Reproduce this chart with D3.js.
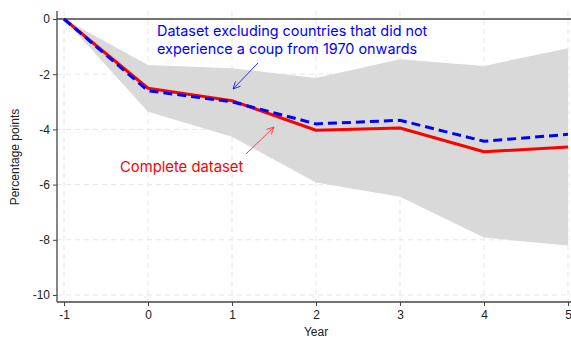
<!DOCTYPE html>
<html>
<head>
<meta charset="utf-8">
<script src="https://cdn.jsdelivr.net/npm/d3@7"></script>
<style>
  html, body { margin: 0; padding: 0; background: #fff; }
  svg { display: block; }
  text { font-family: "Liberation Sans", Arial, sans-serif; }
</style>
</head>
<body>
<svg id="chart" width="571" height="339"></svg>
<script>
// Years relative to the coup
const years = [-1, 0, 1, 2, 3, 4, 5];
// Complete dataset estimates (percentage points)
const completeValues = [0, -2.51, -2.96, -4.03, -3.95, -4.81, -4.64];
// Dataset excluding never-coup countries
const excludedValues = [0, -2.6, -3.0, -3.8, -3.67, -4.43, -4.18];
// Confidence band bounds
const ciUpper = [0, -1.67, -1.78, -2.14, -1.46, -1.70, -1.06];
const ciLower = [0, -3.36, -4.27, -5.92, -6.44, -7.92, -8.21];
// Axis ticks
const yTicks = [0, -2, -4, -6, -8, -10];
const xTicks = [-1, 0, 1, 2, 3, 4, 5];
// Annotation text
const blueNote = ["Dataset excluding countries that did not", "experience a coup from 1970 onwards"];
const redNote = "Complete dataset";

const svg = d3.select("#chart");
const x = d3.scaleLinear().domain([-1, 5]).range([64, 568]);
const y = d3.scaleLinear().domain([0, -10]).range([19, 295]);
const plotLeft = 57, plotBottom = 302, plotRight = 571, plotTop = 11;

// Dashed grid
const grid = svg.append("g");
grid.selectAll("line.gx").data(xTicks).join("line")
  .attr("x1", d => x(d)).attr("x2", d => x(d))
  .attr("y1", plotTop).attr("y2", plotBottom)
  .attr("stroke", "#e6e6e6").attr("stroke-width", 1).attr("stroke-dasharray", "5,4");
grid.selectAll("line.gy").data(yTicks.filter(d => d !== 0)).join("line")
  .attr("x1", plotLeft).attr("x2", plotRight)
  .attr("y1", d => y(d)).attr("y2", d => y(d))
  .attr("stroke", "#e6e6e6").attr("stroke-width", 1).attr("stroke-dasharray", "5,4");

// Confidence band
const band = years.map((yr, i) => ({ yr, lo: ciLower[i], hi: ciUpper[i] }));
svg.append("path")
  .datum(band)
  .attr("fill", "#d9d9d9")
  .attr("d", d3.area().x(d => x(d.yr)).y0(d => y(d.lo)).y1(d => y(d.hi)));

// Zero reference line
svg.append("line")
  .attr("x1", plotLeft).attr("x2", plotRight)
  .attr("y1", y(0)).attr("y2", y(0))
  .attr("stroke", "#444").attr("stroke-width", 1.3);

// Series lines
const line = d3.line().x(d => x(d[0])).y(d => y(d[1]));
svg.append("path")
  .datum(years.map((yr, i) => [yr, completeValues[i]]))
  .attr("fill", "none").attr("stroke", "#ff0000").attr("stroke-width", 3)
  .attr("stroke-linejoin", "round")
  .attr("d", line);
svg.append("path")
  .datum(years.map((yr, i) => [yr, excludedValues[i]]))
  .attr("fill", "none").attr("stroke", "#0000ff").attr("stroke-width", 3)
  .attr("stroke-dasharray", "9,5")
  .attr("d", line);

// Axes (plain hyphen for negative labels)
const axisColor = "#444";
const fmt = d => String(d);
const xAxis = svg.append("g").attr("transform", `translate(0,${plotBottom})`)
  .call(d3.axisBottom(x).tickValues(xTicks).tickSize(4).tickPadding(4).tickFormat(fmt));
const yAxis = svg.append("g").attr("transform", `translate(${plotLeft},0)`)
  .call(d3.axisLeft(y).tickValues(yTicks).tickSize(4).tickPadding(3).tickFormat(fmt));
[xAxis, yAxis].forEach(g => {
  g.select(".domain").remove();
  g.selectAll(".tick line").attr("stroke", axisColor);
  g.selectAll(".tick text").attr("fill", "#222").style("font-size", "12px")
    .style("font-family", '"Liberation Sans", Arial, sans-serif');
});
svg.append("line").attr("x1", plotLeft).attr("x2", plotLeft).attr("y1", plotTop).attr("y2", plotBottom)
  .attr("stroke", axisColor).attr("stroke-width", 1.3);
svg.append("line").attr("x1", plotLeft).attr("x2", plotRight).attr("y1", plotBottom).attr("y2", plotBottom)
  .attr("stroke", axisColor).attr("stroke-width", 1.3);

// Axis titles
svg.append("text").attr("x", x(2)).attr("y", 336).attr("text-anchor", "middle")
  .style("font-size", "12px").attr("fill", "#222").text("Year");
svg.append("text").attr("transform", `translate(19,157) rotate(-90)`).attr("text-anchor", "middle")
  .style("font-size", "12px").attr("fill", "#222").text("Percentage points");

// Annotations
const annoFont = 'Inter, "Open Sans", sans-serif';
blueNote.forEach((t, i) => {
  svg.append("text").attr("x", 157).attr("y", 36 + i * 18)
    .style("font-family", annoFont).style("font-size", "14.4px").attr("fill", "#0000ff")
    .text(t);
});
svg.append("text").attr("x", 120).attr("y", 172)
  .style("font-family", annoFont).style("font-size", "14.8px").attr("fill", "#ff0000")
  .text(redNote);

function arrow(x1, y1, x2, y2, color) {
  const ang = Math.atan2(y2 - y1, x2 - x1);
  const len = 8, spread = Math.PI / 7;
  const g = svg.append("g").attr("stroke", color).attr("stroke-width", 1).attr("fill", "none");
  g.append("line").attr("x1", x1).attr("y1", y1).attr("x2", x2).attr("y2", y2);
  g.append("path").attr("d",
    `M${x2 - len * Math.cos(ang - spread)},${y2 - len * Math.sin(ang - spread)}` +
    `L${x2},${y2}` +
    `L${x2 - len * Math.cos(ang + spread)},${y2 - len * Math.sin(ang + spread)}`);
}
arrow(258, 63, 233, 89, "#2b2bff");
arrow(246, 154, 274, 127, "#ff4040");
</script>
</body>
</html>
